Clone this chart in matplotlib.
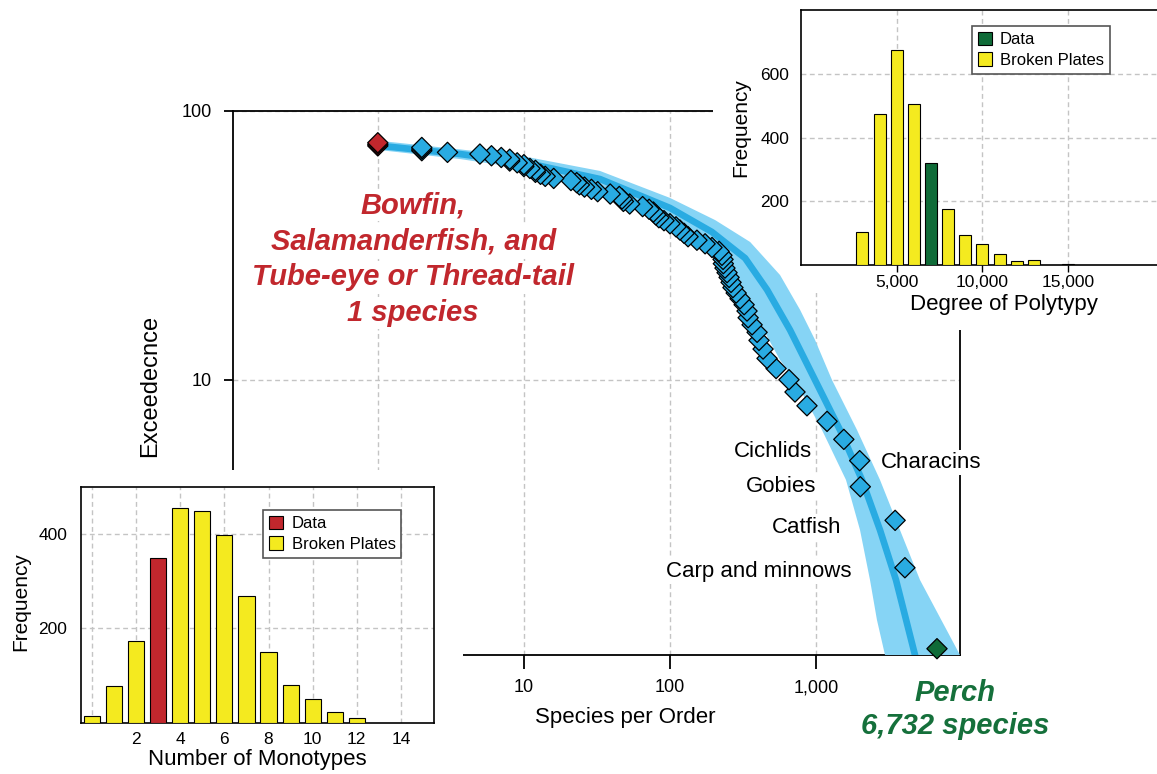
import numpy as np
import matplotlib
matplotlib.use("Agg")
import matplotlib.pyplot as plt
from matplotlib.patches import Rectangle, Polygon, Patch
from matplotlib.ticker import FixedLocator, NullLocator, FuncFormatter

plt.rcParams['font.family'] = ['Liberation Sans', 'DejaVu Sans']

# ---------------- data ----------------
# species per order, ranked (largest first); exceedance = rank
species_per_order = [6732, 4060, 3480, 2010, 1990, 1550, 1190, 867, 718, 653,
                     533, 462, 434, 407, 395, 365, 343, 337, 322, 302,
                     284, 270, 262, 254, 246, 238, 232, 231, 227, 217,
                     194, 174, 153, 133, 125, 117, 110, 100, 91, 84,
                     80, 77, 72, 65, 53, 48, 47, 45, 39, 32,
                     29, 26, 24, 23, 21, 16, 14, 13, 12, 12,
                     11, 10, 10, 9, 8, 8, 7, 6, 5, 3,
                     2, 2, 2, 1, 1, 1]
exceedance = list(range(1, len(species_per_order) + 1))

# model ("broken plates") median curve and envelope
model_x = [1, 3.66, 10.5, 33.2, 100, 194, 327, 462, 664, 985, 1460, 2064, 2742, 3528, 4761, 5100]
model_y = [74.2, 69.0, 63.9, 55.7, 43.5, 35.4, 28.3, 21.6, 15.3, 9.97, 6.5, 4.24, 2.76, 1.80, 0.947, 0.85]
band_hi_x = [1, 3.66, 10.5, 33.2, 100, 204, 354, 567, 777, 985, 1287, 1909, 2742, 3758, 5151, 9674, 10400]
band_hi_y = [77.4, 71.8, 67.3, 59.7, 47.4, 39.2, 32.5, 24.5, 18.2, 14.05, 9.97, 6.5, 4.24, 2.76, 1.80, 0.947, 0.85]
band_lo_x = [1, 3.66, 10.5, 33.2, 100, 188, 279, 401, 567, 719, 1099, 1604, 2001, 2342, 2612, 2967, 3030]
band_lo_y = [71.5, 66.1, 60.7, 52.0, 39.9, 31.7, 24.5, 16.7, 11.83, 9.97, 6.5, 4.24, 2.76, 1.80, 1.28, 0.947, 0.85]

main_xticks = [1, 10, 100, 1000]
main_yticks = [10, 100]

order_labels = ['Cichlids', 'Gobies', 'Catfish', 'Carp and minnows', 'Characins']
order_label_x = [939, 1000, 1483, 1763, 2786]
order_label_y = [5.16, 3.83, 2.69, 1.85, 4.68]
order_label_ha = ['right', 'right', 'right', 'right', 'left']

small_lines = ['Bowfin,', 'Salamanderfish, and', 'Tube-eye or Thread-tail', '1 species']
small_x = 1.744
small_y = [41.6, 30.6, 22.4, 16.5]
big_lines = ['Perch', '6,732 species']
big_x = 8941
big_y = [0.639, 0.482]

# inset: number of monotypes
mono_counts = list(range(13))
mono_freq = [15, 77, 173, 350, 456, 450, 399, 268, 151, 79, 50, 22, 9]
mono_observed = 3

# inset: degree of polytypy
poly_bins = [3000, 4000, 5000, 6000, 7000, 8000, 9000, 10000, 11000, 12000, 13000, 15000]
poly_freq = [103, 476, 677, 506, 322, 177, 93, 65, 36, 13, 17, 4]
poly_observed = 7000

# ---------------- styles ----------------
BLUE = '#29abe2'
LIGHT = '#86d4f5'
RED = '#c1272d'
GREEN = '#0f6b38'
GREEN_TXT = '#15703b'
YELLOW = '#f4ea1f'
GRID = '#c4c4c4'
DASH = (0, (3.5, 2.5))

W, H = 1157, 774
fig = plt.figure(figsize=(W / 100, H / 100), dpi=100)


def rect(x0, y0, x1, y1):
    return [x0 / W, 1 - y1 / H, (x1 - x0) / W, (y1 - y0) / H]


def fpt(x, y):
    return (x / W, 1 - y / H)


XLIM = (0.102, 9675)
YLIM = (0.9475, 100)
main_rect = rect(233, 110.7, 960, 655)

# background axes: frame, grid, ticks, labels
ax = fig.add_axes(main_rect, zorder=0)
ax.set_xscale('log')
ax.set_yscale('log')
ax.set_xlim(*XLIM)
ax.set_ylim(*YLIM)
ax.xaxis.set_major_locator(FixedLocator(main_xticks))
ax.yaxis.set_major_locator(FixedLocator(main_yticks))
ax.xaxis.set_minor_locator(NullLocator())
ax.yaxis.set_minor_locator(NullLocator())
fmt = FuncFormatter(lambda v, p: f'{v:,.0f}')
ax.xaxis.set_major_formatter(fmt)
ax.yaxis.set_major_formatter(fmt)
ax.grid(True, which='major', color=GRID, lw=1.0, ls=DASH)
for s in ax.spines.values():
    s.set_linewidth(1.3)
ax.tick_params(axis='x', length=10, width=1.3, pad=7.5, labelsize=13)
ax.tick_params(axis='y', length=6.5, width=1.3, pad=9, labelsize=13)
ax.set_xlabel('Species per Order', fontsize=16)
ax.xaxis.set_label_coords((625.4 - 233) / 727, -(707 - 655) / 544.3)
ax.set_ylabel('Exceedecnce', fontsize=17)
ax.yaxis.set_label_coords(-(233 - 161) / 727, (655 - 386) / 544.3)

# white masks behind the insets
fig.add_artist(Rectangle((0, 0), 463 / W, (774 - 470) / H, transform=fig.transFigure,
                         facecolor='white', edgecolor='none', zorder=1))
fig.add_artist(Polygon([fpt(713, -5), fpt(1165, -5), fpt(1165, 330), fpt(900, 330),
                        fpt(900, 293), fpt(713, 293)], closed=True, transform=fig.transFigure,
                       facecolor='white', edgecolor='none', zorder=1))

# data axes (transparent, same scales)
ax2 = fig.add_axes(main_rect, zorder=2)
ax2.set_xscale('log')
ax2.set_yscale('log')
ax2.set_xlim(*XLIM)
ax2.set_ylim(*YLIM)
ax2.axis('off')

ax2.fill(np.concatenate([band_hi_x, band_lo_x[::-1]]),
         np.concatenate([band_hi_y, band_lo_y[::-1]]),
         color=LIGHT, lw=0, zorder=1)
ax2.plot(model_x, model_y, color=BLUE, lw=4.8, solid_capstyle='butt',
         solid_joinstyle='round', zorder=2)

smin, smax = min(species_per_order), max(species_per_order)
colors = [RED if v == smin else (GREEN if v == smax else BLUE) for v in species_per_order]
ax2.scatter(species_per_order, exceedance, marker='D', s=10.3 ** 2, c=colors,
            edgecolors='black', linewidths=0.9, zorder=4, clip_on=False)

for lab, x, y, ha in zip(order_labels, order_label_x, order_label_y, order_label_ha):
    ax2.text(x, y, lab, ha=ha, va='baseline', fontsize=16, color='black', zorder=5,
             clip_on=False, bbox=dict(facecolor='white', edgecolor='none', pad=1.5))

for line, y in zip(small_lines, small_y):
    ax2.text(small_x, y, line, ha='center', va='baseline', fontsize=21, fontweight='bold',
             fontstyle='italic', color=RED, zorder=5, clip_on=False,
             bbox=dict(facecolor='white', edgecolor='none', pad=1.5))

for line, y in zip(big_lines, big_y):
    ax2.text(big_x, y, line, ha='center', va='baseline', fontsize=21, fontweight='bold',
             fontstyle='italic', color=GREEN_TXT, zorder=5, clip_on=False)


def legend_for(a, data_color, anchor):
    handles = [Patch(facecolor=data_color, edgecolor='black', lw=0.8, label='Data'),
               Patch(facecolor=YELLOW, edgecolor='black', lw=0.8, label='Broken Plates')]
    lg = a.legend(handles=handles, loc='upper left', bbox_to_anchor=anchor, fontsize=12,
                  frameon=True, fancybox=False, edgecolor='#555555', framealpha=1,
                  handlelength=0.85, handleheight=0.85, handletextpad=0.5,
                  borderpad=0.35, labelspacing=0.3, borderaxespad=0)
    lg.get_frame().set_linewidth(1.2)
    return lg


# ---------------- inset: degree of polytypy ----------------
axT = fig.add_axes(rect(801, 9.5, 1160, 265), zorder=3)
axT.set_facecolor('white')
axT.set_xlim(-580, 20360)
axT.set_ylim(0, 803)
axT.set_axisbelow(True)
axT.grid(True, color=GRID, lw=1.0, ls=DASH)
axT.bar(poly_bins, poly_freq, width=700,
        color=[GREEN if b == poly_observed else YELLOW for b in poly_bins],
        edgecolor='black', linewidth=0.8, zorder=3)
axT.set_xticks([5000, 10000, 15000])
axT.xaxis.set_major_formatter(fmt)
axT.set_yticks([200, 400, 600])
axT.tick_params(axis='x', length=5, width=1, pad=2.5, labelsize=12.5)
axT.tick_params(axis='y', length=0, pad=8.5, labelsize=12.5)
for s in axT.spines.values():
    s.set_linewidth(1.2)
axT.set_xlabel('Degree of Polytypy', fontsize=16)
axT.xaxis.set_label_coords((1004 - 801) / 359, -(294 - 265) / 255.5)
axT.set_ylabel('Frequency', fontsize=15)
axT.yaxis.set_label_coords(-(801 - 750) / 359, (265 - 128) / 255.5)
legend_for(axT, GREEN, ((971.7 - 801) / 359, 1 - (26 - 9.5) / 255.5))

# ---------------- inset: number of monotypes ----------------
axB = fig.add_axes(rect(81, 486.7, 434, 722.7), zorder=3)
axB.set_facecolor('white')
axB.set_xlim(-0.5, 15.5)
axB.set_ylim(0, 501)
axB.set_axisbelow(True)
axB.grid(True, color=GRID, lw=1.0, ls=DASH)
axB.bar(mono_counts, mono_freq, width=0.73,
        color=[RED if c == mono_observed else YELLOW for c in mono_counts],
        edgecolor='black', linewidth=0.8, zorder=3)
xt = list(range(0, 15, 2))
axB.set_xticks(xt)
axB.set_xticklabels(['' if v == 0 else str(v) for v in xt])
axB.set_yticks([200, 400])
axB.tick_params(axis='x', length=0, pad=6.5, labelsize=12.5)
axB.tick_params(axis='y', length=0, pad=10, labelsize=12.5)
for s in axB.spines.values():
    s.set_linewidth(1.2)
axB.set_xlabel('Number of Monotypes', fontsize=16)
axB.xaxis.set_label_coords(0.5, -(749 - 722.7) / 236)
axB.set_ylabel('Frequency', fontsize=15)
axB.yaxis.set_label_coords(-(81 - 30) / 353, (722.7 - 601.7) / 236)
legend_for(axB, RED, ((263.3 - 81) / 353, 1 - (510 - 486.7) / 236))

fig.savefig('out.png', dpi=100)
